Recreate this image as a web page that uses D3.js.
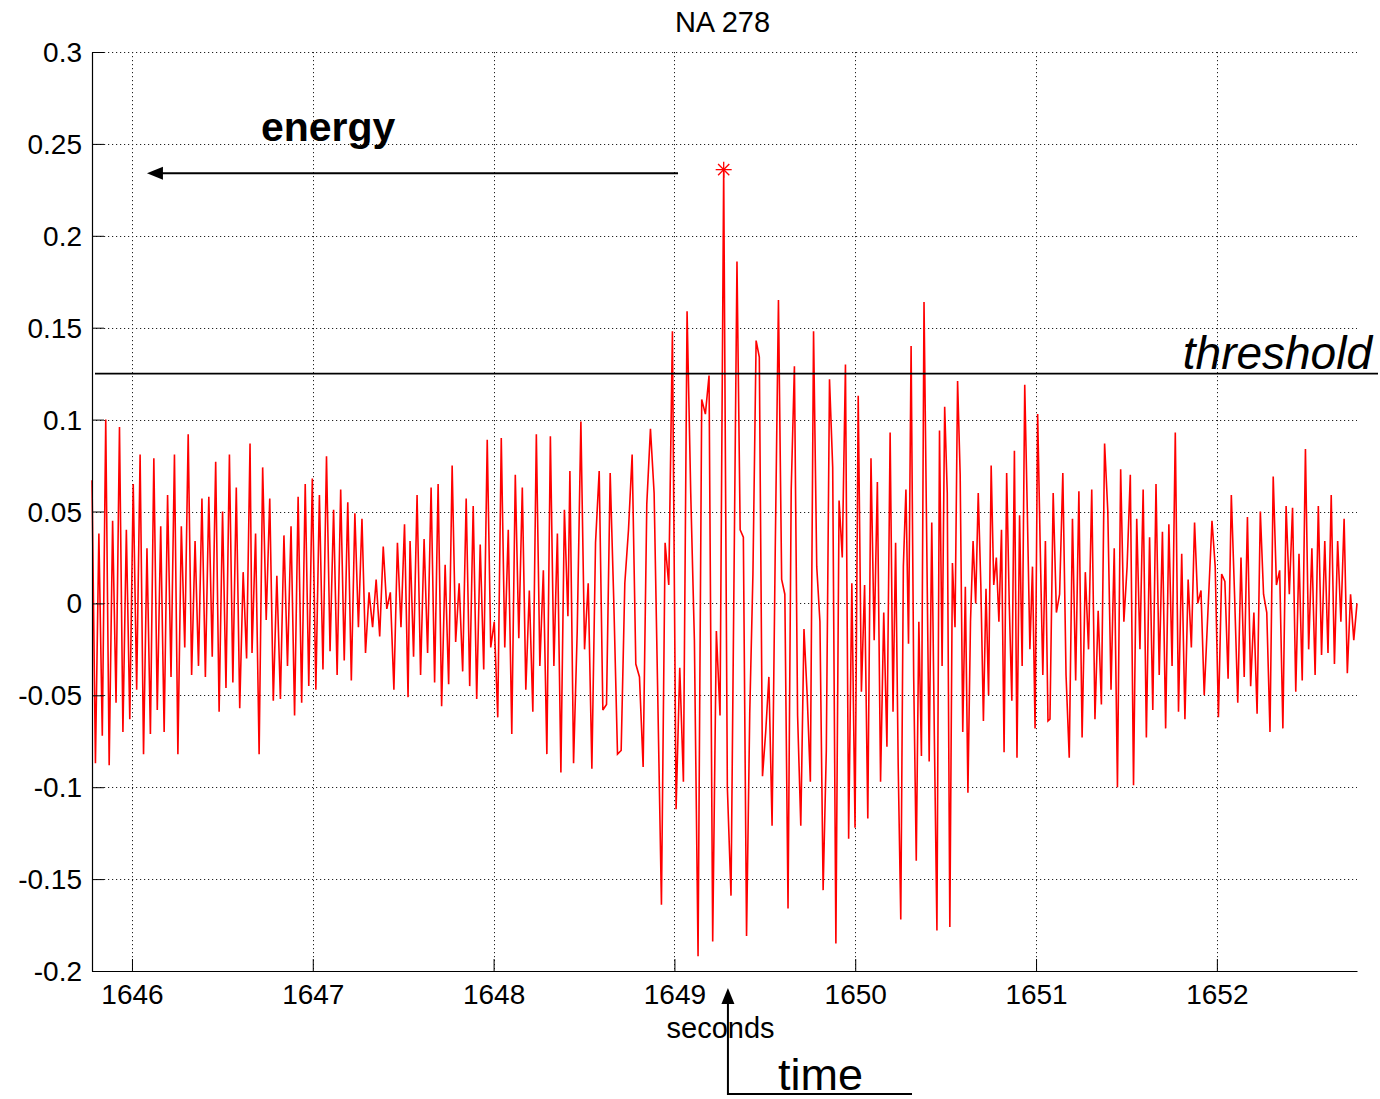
<!DOCTYPE html>
<html><head><meta charset="utf-8">
<script src="https://cdn.jsdelivr.net/npm/d3@7"></script>
<style>
body{margin:0;background:#fff}
svg{display:block}
text{font-family:"Liberation Sans",Arial,Helvetica,sans-serif;fill:#000}
</style>
</head><body>
<svg id="chart" width="1380" height="1099"></svg>
<script>
// ---------------- data ----------------
const title = "NA 278";
const xLabel = "seconds";
const xDomain = [1645.779, 1652.775];
const yDomain = [-0.2, 0.3];
const xTicks = [1646, 1647, 1648, 1649, 1650, 1651, 1652];
const xTickLabels = ["1646", "1647", "1648", "1649", "1650", "1651", "1652"];
const yTicks = [-0.2, -0.15, -0.1, -0.05, 0, 0.05, 0.1, 0.15, 0.2, 0.25, 0.3];
const yTickLabels = ["-0.2", "-0.15", "-0.1", "-0.05", "0", "0.05", "0.1", "0.15", "0.2", "0.25", "0.3"];
const threshold = 0.125;
const ampUnit = 0.001; // signal values below are in thousandths

// signal pieces: each piece is evenly sampled between its start and end time (seconds)
const segStart = [1645.779, 1646.664, 1647.538, 1648.422, 1649.346, 1650.209, 1651.077, 1651.973];
const segEnd   = [1646.653, 1647.527, 1648.411, 1649.313, 1650.193, 1651.066, 1651.930, 1652.775];
const seg1 = [67,-87,38,-72,100,-88,45,-54,96,-70,40,-63,65,-47,81,-82,30,-71,79,-58,42,-70,59,-40,81,-82,42,-24,92,-39,34,-34,57,-40,58,-29,77,-59,50,-46,81,-43,63,-57,17,-30,87];
const seg2 = [-27,38,-82,74,-9,57,-53,15,-52,37,-34,42,-61,58,-54,65,-45,68,-47,59,-36,80,-26,51,-39,62,-31,55,-42,49,-13,46,-27,6,-13,13,-18,31,-3,6,-47,33,-13,43,-51];
const seg3 = [34,-29,59,-39,35,-27,63,-43,65,-56,21,-44,75,-21,11,-37,57,-45,53,-52,32,-36,89,-24,-10,-62,90,-24,40,-71,70,-19,63,-47,7,-59,92,-34,18,-82,91,-34,38,-92,51,-7];
const seg4 = [72,-87,-15,99,-25,11,-90,33,72,-58,-55,71,0,-82,-80,11,40,81,-33,-40,-89,54,95,60,-51,-164,33,10,148,-112,-35,-97,159,60,-20,-192,111,103,124,-184,-15,-61,236,-100,-159];
const seg5 = [186,40,36,-181,-60,16,143,134,-94,-70,-40,-121,30,165,13,5,-166,62,129,-61,-121,-14,-50,-97,148,20,-10,-156,-80,122,74,-185,56,25,130,-128,11,-122,113,-48,10,-117,79,-20,66,-97,-5,-78,93];
const seg6 = [-59,33,-88,-172,20,62,-22,140,-40,-140,-10,-83,164,40,-86,44,-72,-178,94,-34,107,60,-176,22,-13,121,70,-70,9,-103,-10,34,0,60,10,-64,8,-50,75,10,25,-10,40,-81,71,0,-53,83,-84,48,-34,119,50,-25,20,-68,103,30,-39,34,-64];
const seg7 = [-63,60,-5,5,71,-39,-84,46,-42,61,-73,17,-25,62,-63,-4,-55,87,50,-47,30,-100,73,-10,20,70,-99,46,-25,62,-73,36,-58,65,-39,39,-68,43,-34,93,-59,27,-63,13,-24,44,0,7,-50];
const seg8 = [45,20,-62,16,12,-41,59,5,-54,25,-40,47,-45,-5,-60,50,5,-5,-70,69,10,18,-68,53,5,52,-48,27,-42,84,-25,30,-39,53,-28,34,-27,59,-33,34,-10,46,-38,5,-20,0];
const segments = [seg1, seg2, seg3, seg4, seg5, seg6, seg7, seg8];

// annotations (in data units)
const energyArrow = {t0: 1649.02, t1: 1646.083, v: 0.234, label: "energy", labelT: 1646.713, labelV: 0.2515};
const thresholdLabel = {text: "threshold", t: 1652.858, v: 0.1275};
const timeArrow = {t: 1649.296, t1: 1650.314, label: "time", labelT: 1649.573};

// ---------------- build ----------------
const points = [];
segments.forEach((vals, k) => {
  const n = vals.length;
  vals.forEach((v, i) => {
    points.push({t: segStart[k] + (segEnd[k] - segStart[k]) * i / (n - 1), v: v * ampUnit});
  });
});

const svg = d3.select("#chart");
const pLeft = 92, pRight = 1357, pTop = 52, pBottom = 971;
const x = d3.scaleLinear().domain(xDomain).range([pLeft, pRight]);
const y = d3.scaleLinear().domain(yDomain).range([pBottom, pTop]);

// grid
const grid = svg.append("g").attr("stroke", "#222").attr("stroke-width", 1).attr("stroke-dasharray", "1.2,2.8");
grid.selectAll("line.gx").data(xTicks).join("line").attr("class", "gx")
  .attr("x1", d => Math.round(x(d)) + 0.5).attr("x2", d => Math.round(x(d)) + 0.5)
  .attr("y1", pTop).attr("y2", pBottom);
grid.selectAll("line.gy").data(yTicks).join("line").attr("class", "gy")
  .attr("x1", pLeft).attr("x2", pRight)
  .attr("y1", d => Math.round(y(d)) + 0.5).attr("y2", d => Math.round(y(d)) + 0.5);

// signal
const line = d3.line().x(d => x(d.t)).y(d => y(d.v));
svg.append("path").datum(points)
  .attr("fill", "none").attr("stroke", "#f00").attr("stroke-width", 1.6)
  .attr("stroke-linejoin", "miter").attr("stroke-miterlimit", 3).attr("d", line);

// peak star
const peak = points.reduce((a, b) => (b.v > a.v ? b : a));
const px = x(peak.t), py = y(peak.v), r = 8;
const star = svg.append("g").attr("stroke", "#f00").attr("stroke-width", 1.3);
[[0, -r, 0, r], [-r, 0, r, 0], [-r*0.7, -r*0.7, r*0.7, r*0.7], [-r*0.7, r*0.7, r*0.7, -r*0.7]].forEach(s => {
  star.append("line").attr("x1", px + s[0]).attr("y1", py + s[1]).attr("x2", px + s[2]).attr("y2", py + s[3]);
});

// axes
const fmtX = d => xTickLabels[xTicks.indexOf(d)];
const fmtY = d => yTickLabels[yTicks.indexOf(d)];
const ax = svg.append("g").attr("transform", `translate(0,${pBottom})`)
  .call(d3.axisBottom(x).tickValues(xTicks).tickFormat(fmtX).tickSize(-12).tickSizeOuter(0).tickPadding(13));
const ay = svg.append("g").attr("transform", `translate(${pLeft},0)`)
  .call(d3.axisLeft(y).tickValues(yTicks).tickFormat(fmtY).tickSize(-12).tickSizeOuter(0).tickPadding(10));
[ax, ay].forEach(g => {
  g.selectAll("text").attr("font-size", 28).attr("font-family", '"Liberation Sans",Arial,sans-serif').attr("fill", "#000");
  g.selectAll("line").attr("stroke", "#000");
  g.select(".domain").attr("stroke", "#000").attr("stroke-width", 1.2);
});
ay.selectAll("text").attr("dy", "0.34em");

// title and x label
svg.append("text").attr("x", (pLeft + pRight) / 2 - 2).attr("y", 32)
  .attr("text-anchor", "middle").attr("font-size", 29).text(title);
svg.append("text").attr("x", x(1649.255)).attr("y", 1038)
  .attr("text-anchor", "middle").attr("font-size", 29).text(xLabel);

// threshold
svg.append("line").attr("x1", pLeft + 3).attr("x2", 1378)
  .attr("y1", y(threshold)).attr("y2", y(threshold))
  .attr("stroke", "#000").attr("stroke-width", 1.6);
svg.append("text").attr("x", x(thresholdLabel.t)).attr("y", y(thresholdLabel.v))
  .attr("text-anchor", "end").attr("font-size", 46).attr("font-style", "italic").text(thresholdLabel.text);

// energy arrow
const ey = y(energyArrow.v);
svg.append("line").attr("x1", x(energyArrow.t0)).attr("x2", x(energyArrow.t1) + 12)
  .attr("y1", ey).attr("y2", ey).attr("stroke", "#000").attr("stroke-width", 2);
const ex = x(energyArrow.t1);
svg.append("path").attr("d", `M${ex},${ey} L${ex + 16},${ey - 6.5} L${ex + 16},${ey + 6.5} Z`).attr("fill", "#000");
svg.append("text").attr("x", x(energyArrow.labelT)).attr("y", y(energyArrow.labelV))
  .attr("font-size", 41).attr("font-weight", "bold").text(energyArrow.label);

// time arrow
const tx = x(timeArrow.t), tipY = 988, baseY = 1094;
svg.append("path").attr("d", `M${tx},${tipY + 12} L${tx},${baseY} L${x(timeArrow.t1)},${baseY}`)
  .attr("fill", "none").attr("stroke", "#000").attr("stroke-width", 2);
svg.append("path").attr("d", `M${tx},${tipY} L${tx - 6.5},${tipY + 16} L${tx + 6.5},${tipY + 16} Z`).attr("fill", "#000");
svg.append("text").attr("x", x(timeArrow.labelT)).attr("y", 1090)
  .attr("font-size", 45).text(timeArrow.label);
</script>
</body></html>
